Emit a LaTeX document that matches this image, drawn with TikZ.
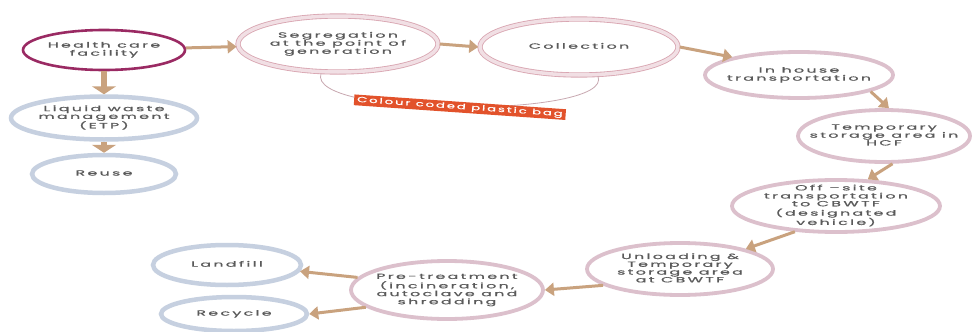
\documentclass[tikz,border=0pt]{standalone}
\usepackage{fontspec}
\usepackage{graphicx}
\newfontfamily\flowfont[LetterSpace=15,FakeBold=0.8]{Poppins}
\usetikzlibrary{shapes.geometric,arrows.meta}
\definecolor{hcfring}{HTML}{9A2A63}
\definecolor{bluering}{HTML}{C6D0E0}
\definecolor{pinkring}{HTML}{DCC0CC}
\definecolor{segedge}{HTML}{D9A6B2}
\definecolor{segband}{HTML}{F1DFE4}
\definecolor{arrowcol}{HTML}{C9A27E}
\definecolor{bagred}{HTML}{E2522B}
\definecolor{bagline}{HTML}{C8A8B0}
\definecolor{txtgrey}{HTML}{5A5A5A}
\begin{document}
\begin{tikzpicture}[x=1pt, y=-1pt,
    every node/.style={font={\flowfont\fontsize{7.5}{7.8}\selectfont}, text=txtgrey, align=center},
    blob/.style={ellipse, inner xsep=-16pt, inner ysep=-6pt},
    hcfbox/.style={blob, draw=hcfring, line width=2.6pt},
    bluebox/.style={blob, draw=bluering, line width=4.5pt},
    pinkbox/.style={blob, draw=pinkring, line width=3.8pt},
    segbox/.style={blob, draw=segband, line width=3.5pt, preaction={draw=segedge, line width=5.2pt}},
    flow/.style={draw=arrowcol, line width=3pt, -{Triangle[length=9pt,width=13pt]}},
    bigflow/.style={flow, line width=6pt, -{Triangle[length=8pt,width=24pt]}},
    bagtag/.style={fill=bagred, text=white, rotate=-4, inner xsep=3pt, inner ysep=1.5pt}]
    \def \wide #1{\scalebox{2.1}[1]{\begin{tabular}{@{}c@{}}#1\end{tabular}}}  % stretched label text
    \def \bagwide #1{\scalebox{1.75}[1]{#1}}                                  % stretched banner text
    % frame
    \path[use as bounding box, fill=white] (0,0) rectangle (972,332);
    % liquid waste branch
    \node[hcfbox, minimum width=162, minimum height=40] (hcf) at (104,50) {\wide{Health care\\facility}};
    \node[bluebox, minimum width=186, minimum height=43] (liq) at (104,118) {\wide{Liquid waste\\management\\(ETP)}};
    \node[bluebox, minimum width=144, minimum height=38] (reuse) at (104,174) {\wide{Reuse}};
    % segregation and collection
    \node[segbox, minimum width=200, minimum height=56] (seg) at (338,44) {\wide{Segregation\\at the point of\\generation}};
    \node[segbox, minimum width=198, minimum height=56] (coll) at (579,47) {\wide{Collection}};
    % transport and storage
    \node[pinkbox, minimum width=188, minimum height=46] (inh) at (799,75) {\wide{In house\\transportation}};
    \node[pinkbox, minimum width=172, minimum height=52] (temp) at (884,136) {\wide{Temporary\\storage area in\\HCF}};
    \node[pinkbox, minimum width=208, minimum height=52] (off) at (836,206) {\wide{Off –site\\transportation\\to CBWTF\\(designated\\vehicle)}};
    \node[pinkbox, minimum width=186, minimum height=52] (unl) at (680,269) {\wide{Unloading \&\\Temporary\\storage area\\at CBWTF}};
    % treatment and disposal
    \node[pinkbox, minimum width=192, minimum height=58] (pre) at (447,290) {\wide{Pre-treatment\\(incineration,\\autoclave and\\shredding}};
    \node[bluebox, minimum width=148, minimum height=40] (lf) at (227,265) {\wide{Landfill}};
    \node[bluebox, minimum width=146, minimum height=34] (rc) at (234,314) {\wide{Recycle}};
    % arrows
    \draw[flow] (hcf) -- (seg);
    \draw[bigflow] (hcf) -- (liq);
    \draw[bigflow] (liq) -- (reuse);
    \draw[flow] (seg.east) -- (coll.west);
    \draw[flow] (coll.east) -- (inh.165);
    \draw[flow] (inh.-13) -- (temp.80);
    \draw[flow] (temp.-73) -- (off.40);
    \draw[flow] (off.212) -- (unl.17);
    \draw[flow] (unl.192) -- (pre.east);
    \draw[flow] (pre.172) -- (lf.-5);
    \draw[flow] (pre.192) -- (rc.east);
    % bag
    \draw[bagline, line width=0.8pt] (seg.240) .. controls (305,118) and (615,118) .. (coll.303)
        node[pos=0.5, bagtag] {\bagwide{Colour coded plastic bag}};
\end{tikzpicture}
\end{document}
